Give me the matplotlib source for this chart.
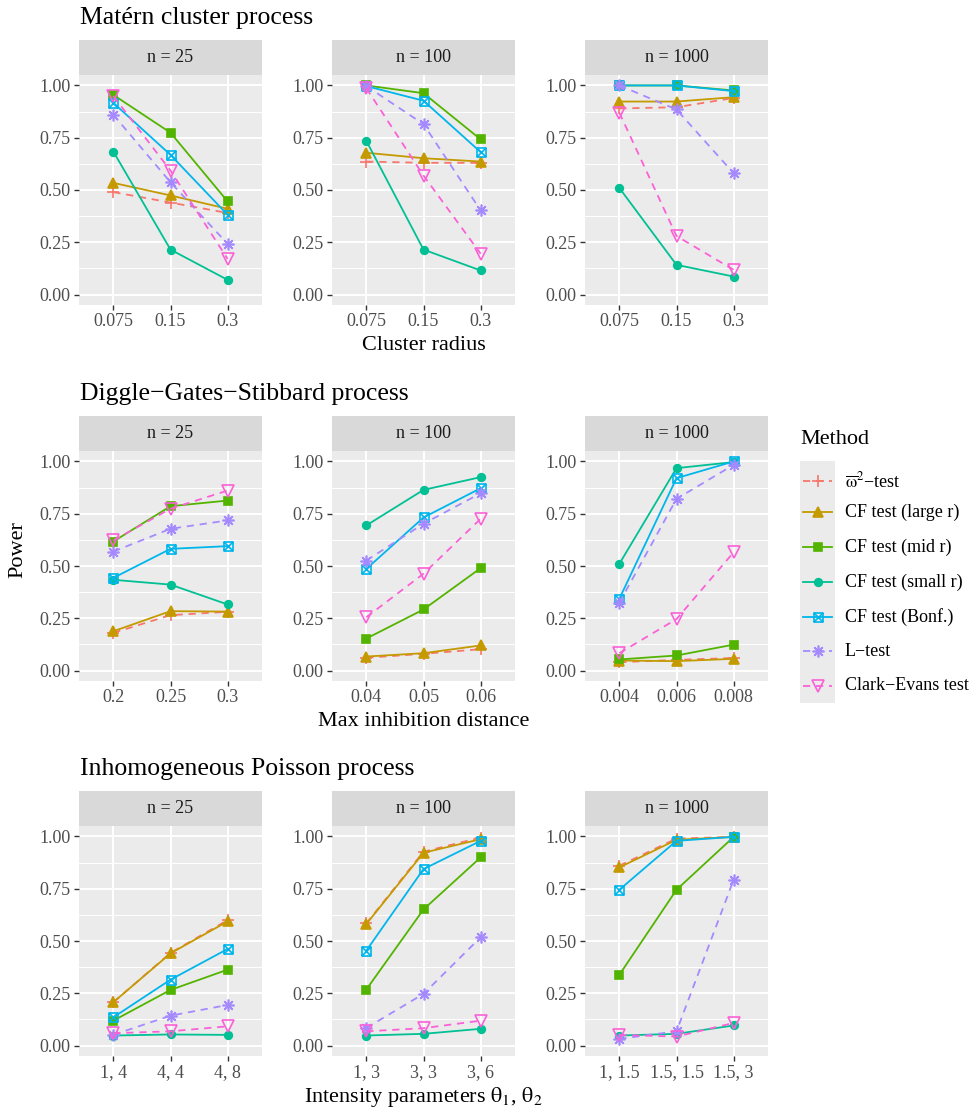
import matplotlib
matplotlib.use("Agg")
import matplotlib.pyplot as plt
from matplotlib.path import Path
from matplotlib.patches import Rectangle

plt.rcParams['font.family'] = ['Liberation Serif', 'DejaVu Serif']
plt.rcParams['mathtext.fontset'] = 'stix'

# ---- data ----
methods = [r'$\overline{\mathrm{\omega}}^2$−test', 'CF test (large r)', 'CF test (mid r)',
           'CF test (small r)', 'CF test (Bonf.)', 'L−test', 'Clark−Evans test']
colors = ['#F8766D', '#C49A00', '#53B400', '#00C094', '#00B6EB', '#A58AFF', '#FB61D7']

sizes_n = ['n = 25', 'n = 100', 'n = 1000']

matern_x = ['0.075', '0.15', '0.3']
matern_25 = [[0.49, 0.44, 0.39], [0.534, 0.474, 0.41], [0.955, 0.774, 0.445],
             [0.684, 0.215, 0.07], [0.917, 0.668, 0.381], [0.86, 0.537, 0.242],
             [0.949, 0.593, 0.17]]
matern_100 = [[0.636, 0.63, 0.63], [0.678, 0.652, 0.636], [1.0, 0.963, 0.742],
              [0.735, 0.215, 0.115], [0.997, 0.927, 0.681], [0.997, 0.815, 0.402],
              [0.987, 0.569, 0.195]]
matern_1000 = [[0.89, 0.896, 0.94], [0.923, 0.923, 0.944], [1.0, 1.0, 0.976],
               [0.51, 0.142, 0.086], [1.0, 1.0, 0.973], [1.0, 0.885, 0.58],
               [0.87, 0.28, 0.118]]

dgs_x25 = ['0.2', '0.25', '0.3']
dgs_x100 = ['0.04', '0.05', '0.06']
dgs_x1000 = ['0.004', '0.006', '0.008']
dgs_25 = [[0.18, 0.265, 0.281], [0.188, 0.284, 0.282], [0.617, 0.786, 0.813],
          [0.434, 0.411, 0.316], [0.443, 0.582, 0.595], [0.569, 0.678, 0.718],
          [0.622, 0.774, 0.861]]
dgs_100 = [[0.061, 0.08, 0.102], [0.067, 0.083, 0.12], [0.153, 0.292, 0.49],
           [0.694, 0.864, 0.925], [0.486, 0.732, 0.872], [0.526, 0.702, 0.848],
           [0.255, 0.463, 0.726]]
dgs_1000 = [[0.04, 0.051, 0.06], [0.048, 0.045, 0.056], [0.053, 0.072, 0.124],
            [0.51, 0.968, 0.997], [0.343, 0.92, 1.0], [0.324, 0.821, 0.984],
            [0.083, 0.246, 0.566]]

ipp_x25 = ['1, 4', '4, 4', '4, 8']
ipp_x100 = ['1, 3', '3, 3', '3, 6']
ipp_x1000 = ['1, 1.5', '1.5, 1.5', '1.5, 3']
ipp_25 = [[0.207, 0.443, 0.6], [0.207, 0.441, 0.594], [0.119, 0.266, 0.363],
          [0.048, 0.053, 0.051], [0.135, 0.315, 0.462], [0.051, 0.143, 0.194],
          [0.059, 0.068, 0.092]]
ipp_100 = [[0.584, 0.927, 0.995], [0.581, 0.922, 0.987], [0.268, 0.651, 0.9],
           [0.048, 0.056, 0.08], [0.454, 0.844, 0.979], [0.084, 0.247, 0.518],
           [0.068, 0.083, 0.119]]
ipp_1000 = [[0.86, 0.99, 0.998], [0.852, 0.984, 0.998], [0.338, 0.745, 0.998],
            [0.048, 0.056, 0.096], [0.745, 0.979, 0.998], [0.032, 0.068, 0.793],
            [0.051, 0.043, 0.108]]

# ---- styles ----
boxcross = Path([(-1, -1), (1, -1), (1, 1), (-1, 1), (-1, -1),
                 (-1, -1), (1, 1), (-1, 1), (1, -1)],
                [Path.MOVETO, Path.LINETO, Path.LINETO, Path.LINETO, Path.CLOSEPOLY,
                 Path.MOVETO, Path.LINETO, Path.MOVETO, Path.LINETO])
markers = ['+', '^', 's', 'o', boxcross, (8, 2, 0), 'v']
msizes = [9, 7.5, 6, 5.5, 6.5, 8.5, 8]
filled = [True, True, True, True, False, False, False]
dashed = [True, False, False, False, False, True, True]
LW = 1.3

TICK_FS = 13
TITLE_FS = 18.5
AXT_FS = 16

W, H = 973, 1113
fig = plt.figure(figsize=(W / 100, H / 100), dpi=100)

col_x = [79, 332, 585]
pw, ph, sh = 183, 230, 35
row_top = [40, 416, 791]


def fx(x):
    return x / W


def fy(y):
    return 1 - y / H


def style_line(ax, xs, ys, i):
    kw = dict(color=colors[i], lw=LW, marker=markers[i], ms=msizes[i],
              mec=colors[i], mew=1.2)
    kw['mfc'] = colors[i] if filled[i] else 'none'
    if dashed[i]:
        kw['ls'] = (0, (4, 3.2))
    return ax.plot(xs, ys, **kw)[0]


def panel(r, c, xlabels, data):
    x0, top = col_x[c], row_top[r]
    # strip
    sax = fig.add_axes([fx(x0), fy(top + sh), fx(pw), sh / H])
    sax.set_facecolor('#D9D9D9')
    sax.set_xticks([])
    sax.set_yticks([])
    for s in sax.spines.values():
        s.set_visible(False)
    sax.text(0.5, 0.5, sizes_n[c], ha='center', va='center', fontsize=TICK_FS,
             color='#1A1A1A', transform=sax.transAxes)
    ax = fig.add_axes([fx(x0), fy(top + sh + ph), fx(pw), ph / H])
    ax.set_facecolor('#EBEBEB')
    for s in ax.spines.values():
        s.set_visible(False)
    xs = list(range(len(xlabels)))
    for i in range(len(methods)):
        style_line(ax, xs, data[i], i)
    ax.set_xlim(-0.6, 2.6)
    ax.set_ylim(-0.05, 1.05)
    ax.set_xticks(xs)
    ax.set_xticklabels(xlabels)
    ax.set_yticks([0, 0.25, 0.5, 0.75, 1.0])
    ax.set_yticklabels(['0.00', '0.25', '0.50', '0.75', '1.00'])
    ax.set_yticks([0.125, 0.375, 0.625, 0.875], minor=True)
    ax.grid(True, which='major', color='white', lw=1.4)
    ax.grid(True, which='minor', axis='y', color='white', lw=0.7)
    ax.set_axisbelow(True)
    ax.tick_params(which='major', length=3.5, width=1.0, color='#333333',
                   labelcolor='#4D4D4D', labelsize=TICK_FS, pad=2.5)
    ax.tick_params(which='minor', length=0)
    return ax


panel(0, 0, matern_x, matern_25)
panel(0, 1, matern_x, matern_100)
panel(0, 2, matern_x, matern_1000)
panel(1, 0, dgs_x25, dgs_25)
panel(1, 1, dgs_x100, dgs_100)
panel(1, 2, dgs_x1000, dgs_1000)
panel(2, 0, ipp_x25, ipp_25)
panel(2, 1, ipp_x100, ipp_100)
panel(2, 2, ipp_x1000, ipp_1000)

# row titles and x-axis titles
titles = ['Matérn cluster process', 'Diggle−Gates−Stibbard process',
          'Inhomogeneous Poisson process']
xtitles = ['Cluster radius', 'Max inhibition distance',
           r'Intensity parameters $\mathrm{\theta}_1$, $\mathrm{\theta}_2$']
for r in range(3):
    fig.text(fx(80), fy(row_top[r] - 22), titles[r], fontsize=TITLE_FS, ha='left',
             va='center', color='black')
    fig.text(fx(col_x[1] + pw / 2), fy(row_top[r] + sh + ph + 41), xtitles[r],
             fontsize=AXT_FS, ha='center', va='center', color='black')

fig.text(fx(18), fy(550), 'Power', rotation=90, fontsize=AXT_FS, ha='center',
         va='center')

# legend
fig.text(fx(800), fy(440), 'Method', fontsize=AXT_FS, ha='left', va='center')
lax = fig.add_axes([fx(800), fy(703), fx(35), 242 / H])
lax.set_xlim(0, 1)
lax.set_ylim(703, 461)
lax.set_axis_off()
lax.add_patch(Rectangle((0, 461), 1, 242, color='#EBEBEB', zorder=0))
entry_y = [481, 512, 547, 582, 617, 651, 686]
for i in range(len(methods)):
    ln = style_line(lax, [0.08, 0.92], [entry_y[i], entry_y[i]], i)
    ln.set_marker('')
    lax.plot([0.5], [entry_y[i]], ls='none', marker=markers[i], ms=msizes[i],
             mec=colors[i], mfc=colors[i] if filled[i] else 'none', mew=1.2)
    fig.text(fx(845), fy(entry_y[i]), methods[i], fontsize=TICK_FS, ha='left',
             va='center')

fig.savefig('out.png', dpi=100)
